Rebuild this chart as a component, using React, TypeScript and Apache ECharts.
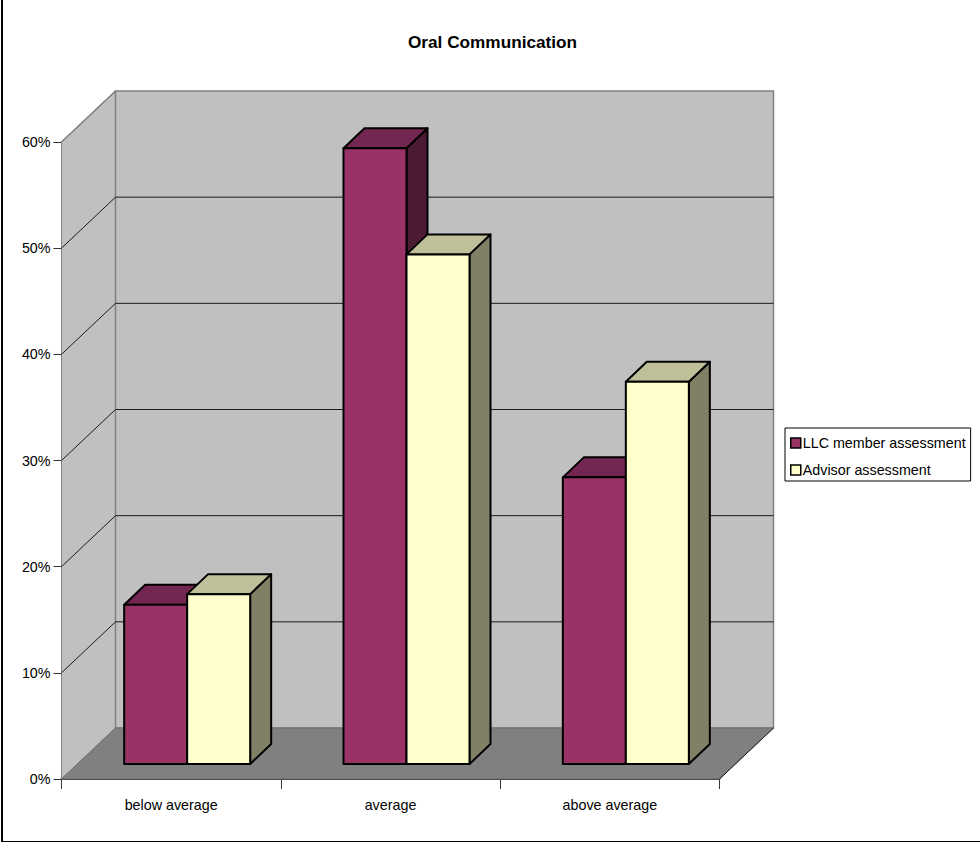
import React, { useEffect, useRef } from "react";
import * as echarts from "echarts";

const categories = ["below average", "average", "above average"];
const llcValues = [15, 58, 27];
const advisorValues = [16, 48, 36];
const valueTicks = [0, 10, 20, 30, 40, 50, 60];
const titleText = "Oral Communication";
const llcName = "LLC member assessment";
const advisorName = "Advisor assessment";

const FONT = "'Liberation Sans', Arial, sans-serif";

// Oblique projection of the plot box: how far the back wall is shifted from the front plane.
const WALL_DX = 54;
const WALL_DY = -51;
// The bars stand partway into the floor and have their own depth.
const BAR_INSET_DX = 16;
const BAR_INSET_DY = -15;
const BAR_DX = 21;
const BAR_DY = -20;
const BAR_BAND_RATIO = 63 / 219.33;

const WALL = "#c0c0c0";
const WALL_EDGE = "#808080";
const FLOOR = "#808080";
const GRID_LINE = "#1a1a1a";

const llcFaces = { front: "#993366", top: "#732650", side: "#4d1a33" };
const advisorFaces = { front: "#ffffcc", top: "#bfbf99", side: "#808066" };

function renderWalls(_params: any, api: any) {
  const band = api.size([1, 0])[0];
  const x0 = api.coord([0, 0])[0] - band / 2;
  const x1 = x0 + band * categories.length;
  const yAt = (v: number) => api.coord([0, v])[1];
  const top = yAt(valueTicks[valueTicks.length - 1]);
  const bottom = yAt(0);
  const children: any[] = [
    {
      type: "polygon",
      shape: { points: [[x0, bottom], [x0 + WALL_DX, bottom + WALL_DY], [x0 + WALL_DX, top + WALL_DY], [x0, top]] },
      style: { fill: WALL, stroke: WALL_EDGE, lineWidth: 1 },
    },
    {
      type: "polygon",
      shape: {
        points: [
          [x0 + WALL_DX, bottom + WALL_DY],
          [x1 + WALL_DX, bottom + WALL_DY],
          [x1 + WALL_DX, top + WALL_DY],
          [x0 + WALL_DX, top + WALL_DY],
        ],
      },
      style: { fill: WALL, stroke: WALL_EDGE, lineWidth: 1.5 },
    },
    {
      type: "polygon",
      shape: { points: [[x0, bottom], [x1, bottom], [x1 + WALL_DX, bottom + WALL_DY], [x0 + WALL_DX, bottom + WALL_DY]] },
      style: { fill: FLOOR, stroke: "#6e6e6e", lineWidth: 1 },
    },
    {
      type: "line",
      shape: { x1: x1, y1: bottom, x2: x1 + WALL_DX, y2: bottom + WALL_DY },
      style: { stroke: "#1a1a1a", lineWidth: 1 },
    },
  ];
  valueTicks.slice(1, -1).forEach((v) => {
    const y = yAt(v);
    children.push({
      type: "polyline",
      shape: { points: [[x0, y], [x0 + WALL_DX, y + WALL_DY], [x1 + WALL_DX, y + WALL_DY]] },
      style: { stroke: GRID_LINE, lineWidth: 1, fill: "none" },
    });
  });
  children.push({
    type: "line",
    shape: { x1: x0, y1: top, x2: x0 + WALL_DX, y2: top + WALL_DY },
    style: { stroke: WALL_EDGE, lineWidth: 1.5 },
  });
  return { type: "group", children };
}

function barRenderer(side: -1 | 1, faces: { front: string; top: string; side: string }) {
  return (_params: any, api: any) => {
    const cat = api.value(0);
    const band = api.size([1, 0])[0];
    const w = band * BAR_BAND_RATIO;
    const center = api.coord([cat, 0])[0] + BAR_INSET_DX;
    const left = side < 0 ? center - w : center;
    const right = left + w;
    const bottom = api.coord([cat, 0])[1] + BAR_INSET_DY;
    const top = api.coord([cat, api.value(1)])[1] + BAR_INSET_DY;
    const edge = { stroke: "#000", lineWidth: 2, lineJoin: "round" };
    return {
      type: "group",
      children: [
        {
          type: "polygon",
          shape: { points: [[right, top], [right + BAR_DX, top + BAR_DY], [right + BAR_DX, bottom + BAR_DY], [right, bottom]] },
          style: { fill: faces.side, ...edge },
        },
        {
          type: "polygon",
          shape: { points: [[left, top], [left + BAR_DX, top + BAR_DY], [right + BAR_DX, top + BAR_DY], [right, top]] },
          style: { fill: faces.top, ...edge },
        },
        {
          type: "polygon",
          shape: { points: [[left, top], [right, top], [right, bottom], [left, bottom]] },
          style: { fill: faces.front, ...edge },
        },
      ],
    };
  };
}

export default function App() {
  const ref = useRef<HTMLDivElement>(null);

  useEffect(() => {
    document.body.style.margin = "0";
    const chart = echarts.init(ref.current!, undefined, { renderer: "svg" });
    chart.setOption({
      animation: false,
      backgroundColor: "#ffffff",
      textStyle: { fontFamily: FONT },
      title: {
        text: titleText,
        left: 403,
        top: 28,
        textStyle: { fontFamily: FONT, fontSize: 17.2, fontWeight: "bold", color: "#000" },
      },
      grid: { left: 61.5, top: 142, width: 658, height: 637, containLabel: false },
      legend: {
        left: 785,
        top: 428,
        orient: "vertical",
        padding: [8, 5, 4, 5],
        itemWidth: 10,
        itemHeight: 10,
        itemGap: 13,
        borderColor: "#000",
        borderWidth: 1,
        backgroundColor: "#fff",
        icon: "rect",
        textStyle: { fontFamily: FONT, fontSize: 14.3, color: "#000", padding: [0, 0, 0, -3] },
        data: [
          { name: llcName, itemStyle: { color: llcFaces.front, borderColor: "#000", borderWidth: 1.5 } },
          { name: advisorName, itemStyle: { color: advisorFaces.front, borderColor: "#000", borderWidth: 1.5 } },
        ],
      },
      xAxis: {
        type: "category",
        data: categories,
        axisLine: { show: true, lineStyle: { color: "#262626", width: 2 } },
        axisTick: { show: true, alignWithLabel: false, length: 10, lineStyle: { color: "#333", width: 1 } },
        axisLabel: { color: "#000", fontFamily: FONT, fontSize: 14.3, margin: 19 },
      },
      yAxis: {
        type: "value",
        min: 0,
        max: 60,
        interval: 10,
        axisLine: { show: true, lineStyle: { color: "#333", width: 1 } },
        axisTick: { show: true, length: 8, lineStyle: { color: "#333", width: 1 } },
        axisLabel: { color: "#000", fontFamily: FONT, fontSize: 14.3, margin: 11, formatter: "{value}%" },
        splitLine: { show: false },
      },
      graphic: [
        { type: "line", silent: true, shape: { x1: 2, y1: 0, x2: 2, y2: 842 }, style: { stroke: "#000", lineWidth: 2 } },
        { type: "line", silent: true, shape: { x1: 2, y1: 841.5, x2: 980, y2: 841.5 }, style: { stroke: "#000", lineWidth: 1 } },
      ],
      series: [
        {
          type: "custom",
          name: "walls",
          silent: true,
          z: 1,
          clip: false,
          renderItem: renderWalls,
          encode: { x: 0, y: 1 },
          data: [[0, 0]],
        },
        {
          type: "custom",
          name: llcName,
          z: 2,
          clip: false,
          itemStyle: { color: llcFaces.front },
          renderItem: barRenderer(-1, llcFaces),
          encode: { x: 0, y: 1 },
          data: llcValues.map((v, i) => [i, v]),
        },
        {
          type: "custom",
          name: advisorName,
          z: 3,
          clip: false,
          itemStyle: { color: advisorFaces.front },
          renderItem: barRenderer(1, advisorFaces),
          encode: { x: 0, y: 1 },
          data: advisorValues.map((v, i) => [i, v]),
        },
      ],
    });
    return () => chart.dispose();
  }, []);

  return <div ref={ref} style={{ width: 980, height: 842 }} />;
}
